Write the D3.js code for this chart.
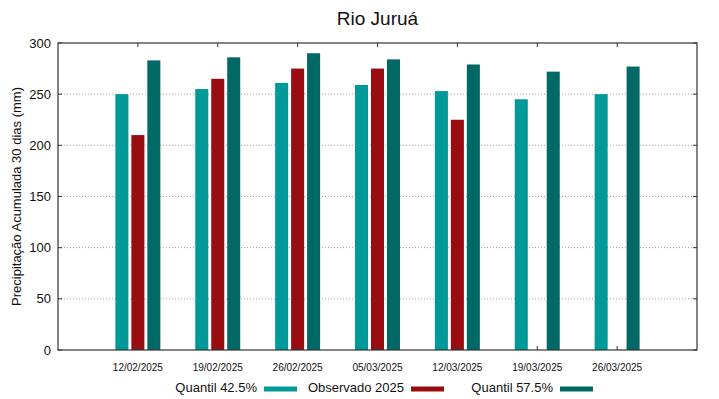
<!DOCTYPE html>
<html><head><meta charset="utf-8">
<script src="https://cdn.jsdelivr.net/npm/d3@7"></script>
<style>body{margin:0;background:#fff}svg{display:block;font-family:"Liberation Sans",Arial,sans-serif}</style>
</head><body>
<script>
const categories = ["12/02/2025","19/02/2025","26/02/2025","05/03/2025","12/03/2025","19/03/2025","26/03/2025"];
const q425 = [250, 255, 261, 259, 253, 245, 250];
const obs2025 = [210, 265, 275, 275, 225, null, null];
const q575 = [283, 286, 290, 284, 279, 272, 277];
const yTicks = [0, 50, 100, 150, 200, 250, 300];
const seriesNames = ["Quantil 42.5%", "Observado 2025", "Quantil 57.5%"];
const colors = ["#009999", "#990c10", "#006966"];

const W = 719, H = 399;
const m = {l: 58, r: 22, t: 43, b: 49};
const svg = d3.select("body").append("svg").attr("width", W).attr("height", H);
const x = d3.scaleLinear().domain([0, categories.length + 1]).range([m.l, W - m.r]);
const y = d3.scaleLinear().domain([0, 300]).range([H - m.b, m.t]);

// gridlines
svg.append("g").selectAll("line").data(yTicks.filter(v => v > 0 && v < 300)).join("line")
  .attr("x1", m.l).attr("x2", W - m.r).attr("y1", d => y(d)).attr("y2", d => y(d))
  .attr("stroke", "#a0a0a0").attr("stroke-width", 1).attr("stroke-dasharray", "1,2");

// bars
const series = [q425, obs2025, q575];
const off = [-0.2, 0, 0.2];
const bw = 0.163;
series.forEach((s, si) => {
  svg.append("g").selectAll("rect").data(s.map((v, i) => ({v, i})).filter(d => d.v != null)).join("rect")
    .attr("x", d => x(d.i + 1 + off[si] - bw / 2))
    .attr("width", x(bw) - x(0))
    .attr("y", d => y(d.v))
    .attr("height", d => y(0) - y(d.v))
    .attr("fill", colors[si]);
});

// frame
svg.append("rect").attr("x", m.l).attr("y", m.t).attr("width", W - m.r - m.l).attr("height", H - m.b - m.t)
  .attr("fill", "none").attr("stroke", "#333").attr("stroke-width", 1.2);

// y ticks
const yt = svg.append("g");
yTicks.forEach(v => {
  yt.append("line").attr("x1", m.l).attr("x2", m.l + 4).attr("y1", y(v)).attr("y2", y(v)).attr("stroke", "#333");
  yt.append("line").attr("x1", W - m.r).attr("x2", W - m.r - 4).attr("y1", y(v)).attr("y2", y(v)).attr("stroke", "#333");
  yt.append("text").attr("x", m.l - 7).attr("y", y(v)).attr("dy", "0.35em").attr("text-anchor", "end")
    .attr("font-size", 13).attr("fill", "#111").text(v);
});
// x ticks
const xt = svg.append("g");
categories.forEach((c, i) => {
  const xx = x(i + 1);
  xt.append("line").attr("x1", xx).attr("x2", xx).attr("y1", m.t).attr("y2", m.t + 4).attr("stroke", "#333");
  xt.append("line").attr("x1", xx).attr("x2", xx).attr("y1", H - m.b).attr("y2", H - m.b - 4).attr("stroke", "#333");
  xt.append("text").attr("x", xx).attr("y", H - m.b + 21).attr("text-anchor", "middle")
    .attr("font-size", 10).attr("fill", "#111").text(c);
});

// title
svg.append("text").attr("x", (m.l + W - m.r) / 2).attr("y", 25).attr("text-anchor", "middle")
  .attr("font-size", 19).attr("fill", "#111").text("Rio Juruá");
// y label
svg.append("text").attr("transform", `translate(21,${(m.t + H - m.b) / 2}) rotate(-90)`)
  .attr("text-anchor", "middle").attr("font-size", 13).attr("fill", "#111")
  .text("Precipitação Acumulada 30 dias (mm)");

// legend
const legX = [257, 404, 553];
seriesNames.forEach((n, i) => {
  svg.append("text").attr("x", legX[i]).attr("y", 392).attr("text-anchor", "end")
    .attr("font-size", 13).attr("fill", "#111").text(n);
  svg.append("rect").attr("x", legX[i] + 7).attr("y", 386.5).attr("width", 33).attr("height", 5)
    .attr("fill", colors[i]);
});
</script>
</body></html>
